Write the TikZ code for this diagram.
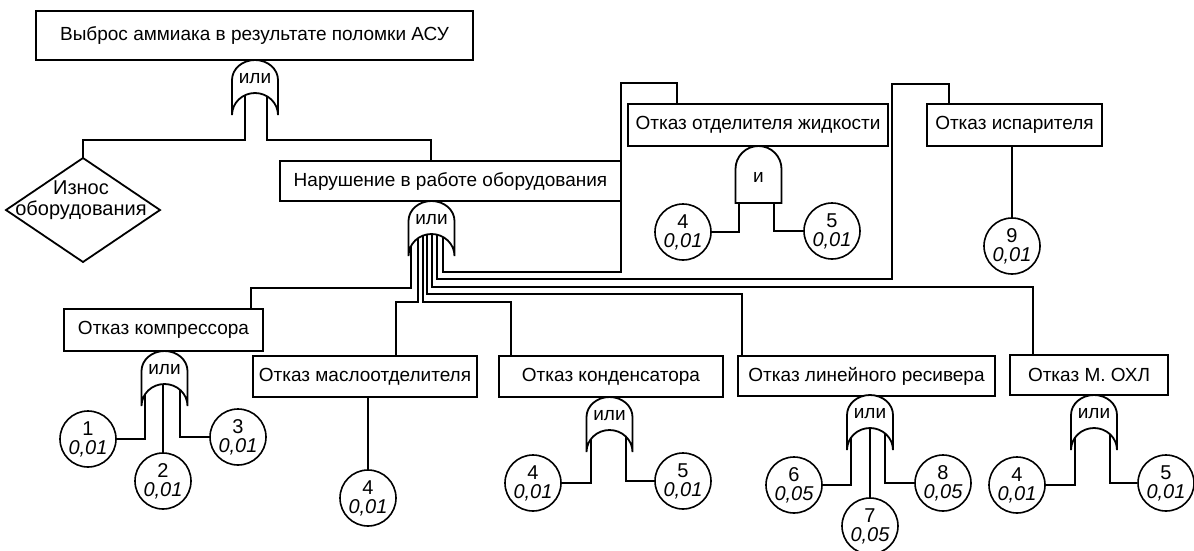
\documentclass[tikz,border=0pt]{standalone}
\usepackage{fontspec}
\setmainfont{Liberation Sans}
\usetikzlibrary{calc}
\begin{document}
\begin{tikzpicture}[x=1pt,y=-1pt,
  wire/.style={line width=1.8pt, line join=miter},
  box/.style={draw, line width=1.8pt, fill=white, inner sep=0pt, font=\fontsize{19}{22}\selectfont},
  ev/.style={draw, circle, line width=1.6pt, fill=white, minimum size=56pt, inner sep=0pt, align=center, font=\fontsize{20}{19}\selectfont},
  gateline/.style={draw, line width=1.8pt, fill=white},
  gtext/.style={font=\fontsize{19}{19}\selectfont, inner sep=0pt},
  orgate/.pic={
    \path[gateline] (-23,20) arc[start angle=180,end angle=0,x radius=23pt,y radius=20pt] -- (23,55) arc[start angle=0,end angle=180,x radius=23pt,y radius=22pt] -- cycle;
    \node[gtext] (-t) at (0,19) {#1};
  },
  andgate/.pic={
    \path[gateline] (-23,57) -- (-23,23) arc[start angle=180,end angle=0,radius=23pt] -- (23,57) -- cycle;
    \node[gtext] (-t) at (0,31) {#1};
  },
]
\useasboundingbox (0,0) rectangle (1194,550);
\fill[white] (0,0) rectangle (1194,550);

% gate anchors (top centres)
\coordinate (GT) at (255,60);
\coordinate (GM) at (431.5,201);
\coordinate (GK) at (164.5,351);
\coordinate (GC) at (609.5,397);
\coordinate (GR) at (870,395);
\coordinate (GO) at (1094,395);
\coordinate (GA) at (758.5,146);

% boxes
\node[box, minimum width=437pt, minimum height=49pt] (top) at (254.5,35.5) {Выброс аммиака в результате поломки АСУ};
\node[box, minimum width=341pt, minimum height=40pt] (nar) at (450.5,181) {Нарушение в работе оборудования};
\node[box, minimum width=260pt, minimum height=42pt] (otd) at (758,125) {Отказ отделителя жидкости};
\node[box, minimum width=175pt, minimum height=42pt] (isp) at (1014.5,125) {Отказ испарителя};
\node[box, minimum width=199pt, minimum height=42pt] (komp) at (163.5,330) {Отказ компрессора};
\node[box, minimum width=224pt, minimum height=41pt] (masl) at (365,376.5) {Отказ маслоотделителя};
\node[box, minimum width=224pt, minimum height=41pt] (kond) at (611,376.5) {Отказ конденсатора};
\node[box, minimum width=257pt, minimum height=40pt] (res) at (866.5,376) {Отказ линейного ресивера};
\node[box, minimum width=158pt, minimum height=40pt] (ohl) at (1089,375) {Отказ М. ОХЛ};

% diamond
\draw[wire, fill=white] (83,158) coordinate (izn) -- (160,210) -- (83,262) -- (6,210) -- cycle;
\node[align=center, inner sep=0pt, font=\fontsize{20}{21}\selectfont] (iznt) at (81,200) {Износ\\оборудования};

% basic events
\node[ev] (k1) at (88,439) {1\\\textit{0,01}};
\node[ev] (k2) at (163,481) {2\\\textit{0,01}};
\node[ev] (k3) at (238,437) {3\\\textit{0,01}};
\node[ev] (m4) at (368,498) {4\\\textit{0,01}};
\node[ev] (c4) at (533,483) {4\\\textit{0,01}};
\node[ev] (c5) at (683,481) {5\\\textit{0,01}};
\node[ev] (r6) at (794,485) {6\\\textit{0,05}};
\node[ev] (r7) at (870,526) {7\\\textit{0,05}};
\node[ev] (r8) at (943,483) {8\\\textit{0,05}};
\node[ev] (o4) at (1017,485) {4\\\textit{0,01}};
\node[ev] (o5) at (1166,483) {5\\\textit{0,01}};
\node[ev] (a4) at (683,232) {4\\\textit{0,01}};
\node[ev] (a5) at (832,231) {5\\\textit{0,01}};
\node[ev] (i9) at (1012,246) {9\\\textit{0,01}};

% connectors: top gate
\draw[wire] ($(GT)+(-10,30)$) -- ($(GT)+(-10,80)$) -| (izn);
\draw[wire] ($(GT)+(12,30)$) -- ($(GT)+(12,80)$) -| ($(nar.north west)+(152,0)$);

% connectors: main gate
\draw[wire] ($(GM)+(-20.5,30)$) |- ($(komp.north east)+(-13,-20)$) -- ($(komp.north east)+(-13,0)$);
\draw[wire] ($(GM)+(-13.5,30)$) |- ($(masl.north)+(31,-53)$) -- ($(masl.north)+(31,0)$);
\draw[wire] ($(GM)+(-8.5,30)$) |- ($(kond.north west)+(13,-53)$) -- ($(kond.north west)+(13,0)$);
\draw[wire] ($(GM)+(-4.5,30)$) |- ($(res.north west)+(5,-61)$) -- ($(res.north west)+(5,0)$);
\draw[wire] ($(GM)+(0.5,30)$) |- ($(ohl.north west)+(24,-67)$) -- ($(ohl.north west)+(24,0)$);
\draw[wire] ($(GM)+(5.5,30)$) |- ($(isp.north west)+(-34,176)$) |- ($(isp.north west)+(23,-19)$) -- ($(isp.north west)+(23,0)$);
\draw[wire] ($(GM)+(11.5,30)$) |- ($(otd.north west)+(-6,169)$) |- ($(otd.north west)+(50,-20)$) -- ($(otd.north west)+(50,0)$);

% connectors: lower gates
\draw[wire] ($(GK)+(-19.5,30)$) |- (k1.east);
\draw[wire] ($(GK)+(-1.5,30)$) -- (k2.north);
\draw[wire] ($(GK)+(15.5,30)$) |- (k3.west);
\draw[wire] ($(GC)+(-18.5,30)$) |- (c4.east);
\draw[wire] ($(GC)+(16.5,30)$) |- (c5.west);
\draw[wire] ($(GR)+(-19,30)$) |- (r6.east);
\draw[wire] ($(GR)+(0,30)$) -- (r7.north);
\draw[wire] ($(GR)+(15,30)$) |- (r8.west);
\draw[wire] ($(GO)+(-19,30)$) |- (o4.east);
\draw[wire] ($(GO)+(16,30)$) |- (o5.west);
\draw[wire] ($(GA)+(-19.5,40)$) |- (a4.east);
\draw[wire] ($(GA)+(15.5,40)$) |- (a5.west);
\draw[wire] (i9.north) -- (i9.north |- isp.south);
\draw[wire] (m4.north) -- (m4.north |- masl.south);

% gates
\pic (gt) at (GT) {orgate={или}};
\pic (gm) at (GM) {orgate={или}};
\pic (gk) at (GK) {orgate={или}};
\pic (gc) at (GC) {orgate={или}};
\pic (gr) at (GR) {orgate={или}};
\pic (go) at (GO) {orgate={или}};
\pic (ga) at (GA) {andgate={и}};
\end{tikzpicture}
\end{document}
